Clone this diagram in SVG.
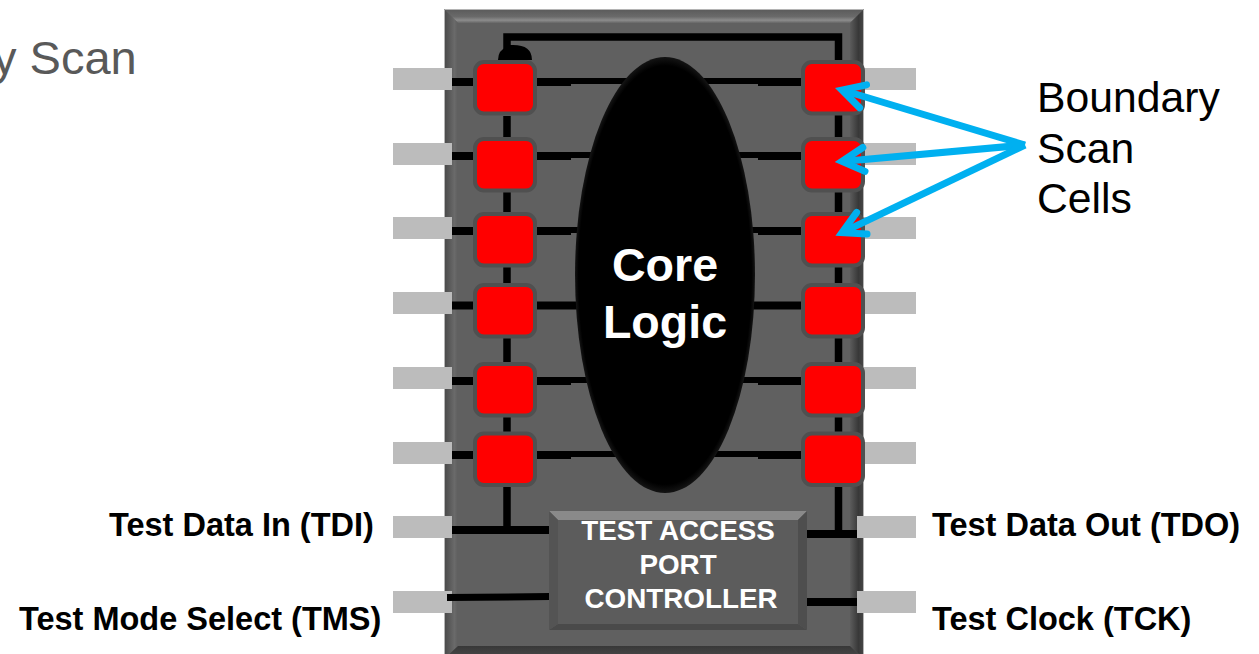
<svg xmlns="http://www.w3.org/2000/svg" width="1259" height="654" viewBox="0 0 1259 654">
<defs>
<linearGradient id="bt" x1="0" y1="0" x2="0" y2="1"><stop offset="0" stop-color="#5a5a5a"/><stop offset="0.55" stop-color="#6a6a6a"/><stop offset="0.8" stop-color="#8c8c8c"/><stop offset="1" stop-color="#666"/></linearGradient>
<linearGradient id="bl" x1="0" y1="0" x2="1" y2="0"><stop offset="0" stop-color="#484848"/><stop offset="0.75" stop-color="#6a6a6a"/><stop offset="1" stop-color="#5e5e5e"/></linearGradient>
<linearGradient id="br" x1="0" y1="0" x2="1" y2="0"><stop offset="0" stop-color="#5c5c5c"/><stop offset="0.6" stop-color="#383838"/><stop offset="1" stop-color="#484848"/></linearGradient>
<linearGradient id="bb" x1="0" y1="0" x2="0" y2="1"><stop offset="0" stop-color="#383838"/><stop offset="1" stop-color="#4a4a4a"/></linearGradient>
<radialGradient id="core" cx="0.5" cy="0.5" r="0.5"><stop offset="0.96" stop-color="#000"/><stop offset="1" stop-color="#141414"/></radialGradient>
<marker id="ah" markerUnits="userSpaceOnUse" markerWidth="50" markerHeight="50" refX="30" refY="25" orient="auto"><path d="M8 13 L30 25 L8 37" fill="none" stroke="#00b0f0" stroke-width="7" stroke-linecap="round" stroke-linejoin="miter" stroke-miterlimit="6"/></marker>
</defs>
<style>
.pin{fill:#bcbcbc}
.w{stroke:#000;fill:none}
.cell{fill:#f00;stroke:#505050;stroke-width:4}
.t{font-family:"Liberation Sans",Arial,sans-serif}
.lab{font-size:32.5px;font-weight:700;fill:#000}
.tap{font-size:27.8px;font-weight:700;fill:#fff;text-anchor:middle}
.arrow{stroke:#00b0f0;stroke-width:7;fill:none;marker-end:url(#ah)}
</style>
<text class="t" x="-7" y="74" font-size="47" fill="#595959">y Scan</text>
<g id="pins-right">
<rect class="pin" x="857" y="68" width="59" height="22"/><rect class="pin" x="857" y="143" width="59" height="22"/><rect class="pin" x="857" y="217" width="59" height="22"/><rect class="pin" x="857" y="292" width="59" height="22"/><rect class="pin" x="857" y="367" width="59" height="22"/><rect class="pin" x="857" y="442" width="59" height="22"/>
</g>
<g id="chip">
<rect x="444" y="9" width="420" height="650" fill="#606060"/>
<polygon points="444,9 864,9 850,23 458,23" fill="url(#bt)"/>
<polygon points="444,9 458,23 458,646 444,659" fill="url(#bl)"/>
<polygon points="864,9 850,23 850,646 864,659" fill="url(#br)"/>
<polygon points="444,659 458,646 850,646 864,659" fill="url(#bb)"/>
<path d="M444.500 654V9.500H863.500V654" fill="none" stroke="#b4b4b4" stroke-width="1"/>
</g>
<g id="pins-front">
<rect class="pin" x="393" y="68" width="59" height="22"/><rect class="pin" x="393" y="143" width="59" height="22"/><rect class="pin" x="393" y="217" width="59" height="22"/><rect class="pin" x="393" y="292" width="59" height="22"/><rect class="pin" x="393" y="367" width="59" height="22"/><rect class="pin" x="393" y="442" width="59" height="22"/><rect class="pin" x="393" y="516" width="59" height="22"/><rect class="pin" x="393" y="591" width="59" height="22"/>
<rect class="pin" x="857" y="516" width="59" height="22"/><rect class="pin" x="857" y="591" width="59" height="22"/>
</g>
<g id="connectors">
<path class="w" stroke-width="7.500" d="M507 60V37H838.500V534M507 116V530"/>
<path d="M498 60Q498 50 507 47V45H513Q532 45 532 60Z" fill="#000"/>
<path class="w" stroke-width="8" d="M452 82H475M452 156H475M452 231H475M452 305.500H475M452 381H475M452 455H475"/>
<path class="w" stroke-width="8" d="M537 82H571M537 156H571M537 231H571M537 305.500H590M537 381H571M537 455H571M758 82H803M758 156H803M758 231H803M740 305.500H803M758 381H803M758 455H803"/>
<path class="w" stroke-width="6" d="M571 81H650M571 155H650M571 230H650M571 380H650M571 454H650M680 81H758M680 155H758M680 230H758M680 380H758M680 454H758"/>
<path class="w" stroke-width="8" d="M452 530H555M802 534H857M805 602H857"/>
<path class="w" stroke-width="7" d="M447 597.500L550 596.500"/>
</g>
<g id="core-logic">
<ellipse cx="665" cy="275" rx="90" ry="218" fill="url(#core)"/>
<text class="t" x="665" y="281" font-size="46.600" font-weight="700" fill="#fff" text-anchor="middle">Core</text>
<text class="t" x="665" y="338" font-size="46.600" font-weight="700" fill="#fff" text-anchor="middle">Logic</text>
</g>
<g id="cells-left">
<rect class="cell" x="475" y="62" width="60" height="51.500" rx="9"/><rect class="cell" x="475" y="139" width="60" height="51.500" rx="9"/><rect class="cell" x="475" y="214" width="60" height="51.500" rx="9"/><rect class="cell" x="475" y="285" width="60" height="51.500" rx="9"/><rect class="cell" x="475" y="364" width="60" height="51.500" rx="9"/><rect class="cell" x="475" y="433.500" width="60" height="51.500" rx="9"/>
</g>
<g id="cells-right">
<rect class="cell" x="803" y="62" width="60" height="51.500" rx="9"/><rect class="cell" x="803" y="139" width="60" height="51.500" rx="9"/><rect class="cell" x="803" y="214" width="60" height="51.500" rx="9"/><rect class="cell" x="803" y="285" width="60" height="51.500" rx="9"/><rect class="cell" x="803" y="364" width="60" height="51.500" rx="9"/><rect class="cell" x="803" y="433.500" width="60" height="51.500" rx="9"/>
</g>
<g id="tap-controller">
<rect x="549" y="511" width="258" height="119" fill="#5c5c5c"/>
<polygon points="549,511 807,511 798,520 558,520" fill="#8a8a8a"/>
<polygon points="549,630 807,630 798,624 558,624" fill="#4a4a4a"/>
<polygon points="549,511 558,520 558,624 549,630" fill="#545454"/>
<polygon points="807,511 798,520 798,624 807,630" fill="#4e4e4e"/>
<text class="t tap" x="678" y="540">TEST ACCESS</text>
<text class="t tap" x="678" y="574">PORT</text>
<text class="t tap" x="681" y="608">CONTROLLER</text>
</g>
<g id="arrows">
<path class="arrow" d="M1025 145L842 90"/>
<path class="arrow" d="M1025 145L842 161.400"/>
<path class="arrow" d="M1025 145L842 232.700"/>
</g>
<g id="labels">
<text class="t" x="1037" y="112" font-size="42.700" fill="#000">Boundary</text>
<text class="t" x="1037" y="163" font-size="42.700" fill="#000">Scan</text>
<text class="t" x="1037" y="213" font-size="42.700" fill="#000">Cells</text>
<text class="t lab" x="109" y="536">Test Data In (TDI)</text>
<text class="t lab" x="19" y="630">Test Mode Select (TMS)</text>
<text class="t lab" x="932" y="536">Test Data Out (TDO)</text>
<text class="t lab" x="932" y="630">Test Clock (TCK)</text>
</g>
</svg>
